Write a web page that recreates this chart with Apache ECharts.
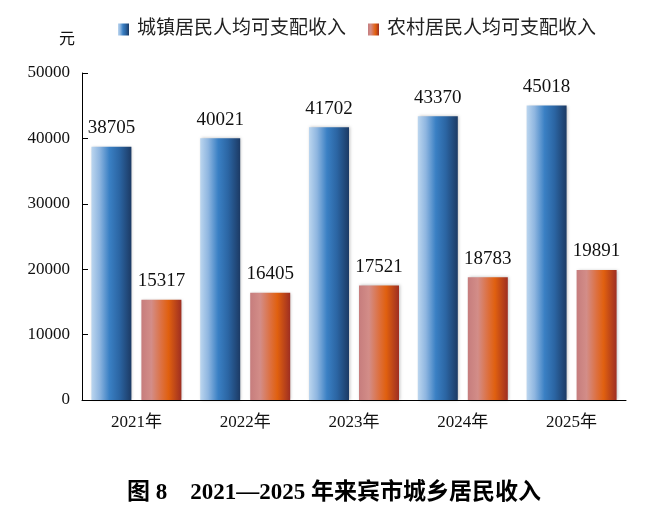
<!DOCTYPE html>
<html>
<head>
<meta charset="utf-8">
<script src="https://cdn.jsdelivr.net/npm/echarts@6/dist/echarts.min.js"></script>
<style>html,body{margin:0;padding:0;background:#fff;}#c{width:668px;height:515px;}</style>
</head>
<body>
<div id="c"></div>
<script>
var categories = ['2021年', '2022年', '2023年', '2024年', '2025年'];
var urbanName = '城镇居民人均可支配收入';
var ruralName = '农村居民人均可支配收入';
var urbanValues = [38705, 40021, 41702, 43370, 45018];
var ruralValues = [15317, 16405, 17521, 18783, 19891];
var yTicks = [0, 10000, 20000, 30000, 40000, 50000];

var serif = "'Liberation Serif','Times New Roman','Noto Sans CJK SC',serif";
var chart = echarts.init(document.getElementById('c'));

function grad(stops) {
  return new echarts.graphic.LinearGradient(0, 0, 1, 0, stops);
}
var blueGrad = grad([
  {offset: 0, color: '#bcd6ef'},
  {offset: 0.2, color: '#8fb6e0'},
  {offset: 0.45, color: '#3a80c4'},
  {offset: 0.7, color: '#2b65a3'},
  {offset: 1, color: '#1c3a64'}
]);
var orangeGrad = grad([
  {offset: 0, color: '#c67d7d'},
  {offset: 0.25, color: '#d38d88'},
  {offset: 0.5, color: '#dd7040'},
  {offset: 0.68, color: '#e0600f'},
  {offset: 1, color: '#9e2e22'}
]);

chart.setOption({
  animation: false,
  title: {
    text: '图 8　2021—2025 年来宾市城乡居民收入',
    left: 'center',
    top: 477,
    textStyle: {fontFamily: serif, fontSize: 23, fontWeight: 'bold', color: '#000'}
  },
  legend: {
    left: 113,
    top: 15,
    itemWidth: 11,
    itemHeight: 12,
    itemGap: 22,
    icon: 'rect',
    textStyle: {fontFamily: serif, fontSize: 19, color: '#222', padding: [0, 0, 0, 3]},
    data: [urbanName, ruralName]
  },
  grid: {left: 82, right: 42, top: 73, bottom: 115},
  xAxis: {
    type: 'category',
    data: categories,
    axisLine: {lineStyle: {color: '#000', width: 1}},
    axisTick: {inside: true, length: 6, lineStyle: {color: '#000'}},
    axisLabel: {fontFamily: serif, fontSize: 17, color: '#111', margin: 14}
  },
  yAxis: {
    type: 'value',
    min: yTicks[0],
    max: yTicks[yTicks.length - 1],
    interval: yTicks[1] - yTicks[0],
    name: '元',
    nameGap: 25,
    nameTextStyle: {fontFamily: serif, fontSize: 16, color: '#111', align: 'right', padding: [0, 7, 0, 0]},
    axisLine: {show: true, lineStyle: {color: '#000', width: 1}},
    axisTick: {show: true, inside: true, length: 6, lineStyle: {color: '#000'}},
    splitLine: {show: false},
    axisLabel: {fontFamily: serif, fontSize: 17, color: '#111', margin: 12, formatter: function (v) { return String(v); }}
  },
  series: [
    {
      name: urbanName,
      type: 'bar',
      data: urbanValues,
      barWidth: 40,
      barGap: '25%',
      itemStyle: {color: blueGrad, shadowColor: 'rgba(0,0,0,0.25)', shadowBlur: 3, shadowOffsetX: 1, shadowOffsetY: 0},
      label: {show: true, position: 'top', distance: 9, fontFamily: serif, fontSize: 19, color: '#111'}
    },
    {
      name: ruralName,
      type: 'bar',
      data: ruralValues,
      barWidth: 40,
      itemStyle: {color: orangeGrad, shadowColor: 'rgba(0,0,0,0.25)', shadowBlur: 3, shadowOffsetX: 1, shadowOffsetY: 0},
      label: {show: true, position: 'top', distance: 9, fontFamily: serif, fontSize: 19, color: '#111'}
    }
  ]
});
</script>
</body>
</html>
